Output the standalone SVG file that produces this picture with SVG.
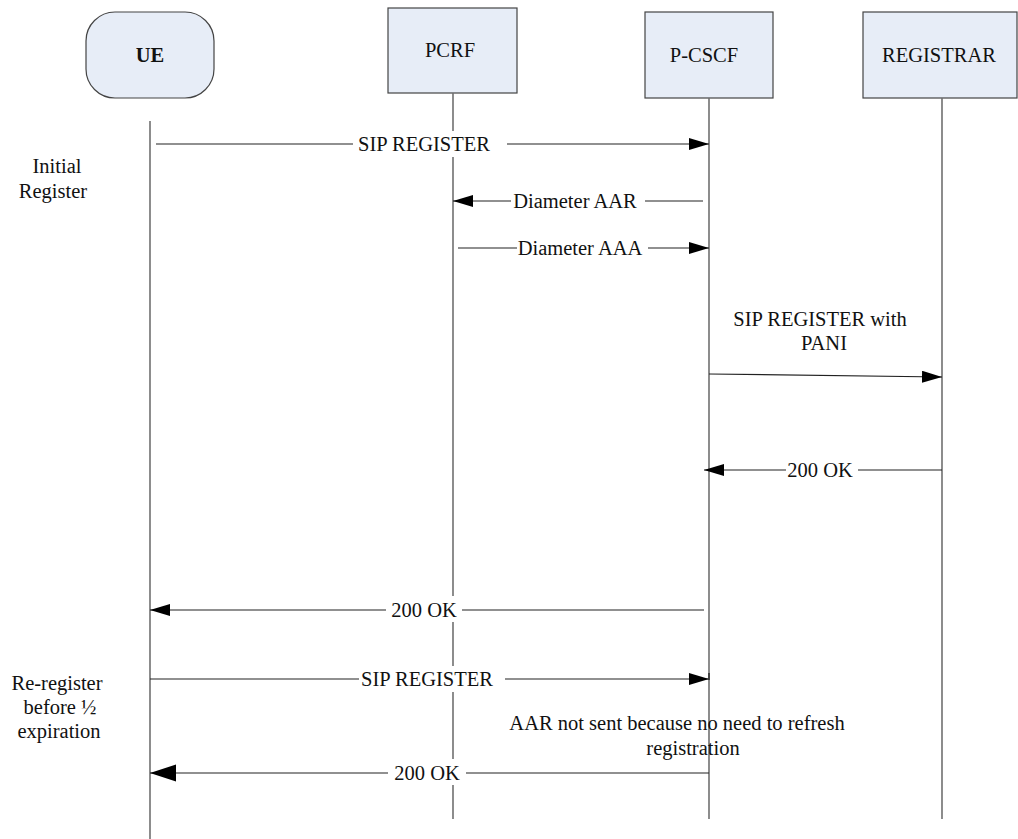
<svg xmlns="http://www.w3.org/2000/svg" width="1018" height="839" viewBox="0 0 1018 839">
<style>
  text { font-family: "Liberation Serif", "Times New Roman", serif; font-size: 20.5px; fill: #111; }
  .box { fill: #E7EDF7; stroke: #444; stroke-width: 1.2; }
  .life { stroke: #707070; stroke-width: 1.6; fill: none; }
  .msg { stroke: #222; stroke-width: 1.2; fill: none; }
  .bg { fill: #fff; stroke: none; }
  .mid { text-anchor: middle; }
</style>
<defs>
  <marker id="arr" markerUnits="userSpaceOnUse" markerWidth="22" markerHeight="14" refX="20" refY="6" orient="auto">
    <path d="M0,0 L20,6 L0,12 Z" fill="#000"/>
  </marker>
  <marker id="arrL" markerUnits="userSpaceOnUse" markerWidth="28" markerHeight="18" refX="26" refY="8.5" orient="auto">
    <path d="M0,0 L26,8.5 L0,17 Z" fill="#000"/>
  </marker>
</defs>
<rect width="1018" height="839" fill="#fff"/>

<g id="node-ue">
  <rect class="box" x="86" y="12" width="128" height="86" rx="29" ry="29"/>
  <text class="mid" x="150" y="62" font-weight="bold">UE</text>
  <line class="life" x1="150" y1="121" x2="150" y2="839"/>
</g>
<g id="node-pcrf">
  <rect class="box" x="388" y="8" width="129" height="85"/>
  <text class="mid" x="450" y="57">PCRF</text>
  <line class="life" x1="453" y1="93" x2="453" y2="819"/>
</g>
<g id="node-pcscf">
  <rect class="box" x="645" y="12" width="128" height="86"/>
  <text class="mid" x="704" y="62">P-CSCF</text>
  <line class="life" x1="709" y1="98" x2="709" y2="819"/>
</g>
<g id="node-registrar">
  <rect class="box" x="863" y="12" width="154" height="86"/>
  <text class="mid" x="939" y="62">REGISTRAR</text>
  <line class="life" x1="942" y1="98" x2="942" y2="819"/>
</g>

<g id="phase-labels">
  <text class="mid" x="57" y="173">Initial</text>
  <text class="mid" x="53" y="198">Register</text>
  <text class="mid" x="57" y="690">Re-register</text>
  <text class="mid" x="60" y="714">before ½</text>
  <text class="mid" x="59" y="738">expiration</text>
</g>

<g id="connectors">
  <g id="m1">
    <line class="msg" x1="156" y1="144" x2="709" y2="144" marker-end="url(#arr)"/>
    <rect class="bg" x="353" y="131" width="154" height="26"/>
    <text class="mid" x="424" y="151">SIP REGISTER</text>
  </g>
  <g id="m2">
    <line class="msg" x1="703" y1="201" x2="453" y2="201" marker-end="url(#arr)"/>
    <rect class="bg" x="511" y="188" width="134" height="26"/>
    <text class="mid" x="575" y="208">Diameter AAR</text>
  </g>
  <g id="m3">
    <line class="msg" x1="458" y1="248" x2="709" y2="248" marker-end="url(#arr)"/>
    <rect class="bg" x="517" y="235" width="131" height="26"/>
    <text class="mid" x="580" y="255">Diameter AAA</text>
  </g>
  <g id="m4">
    <line class="msg" x1="709" y1="374" x2="942" y2="377" marker-end="url(#arr)"/>
    <text class="mid" x="820" y="326">SIP REGISTER with</text>
    <text class="mid" x="824" y="350">PANI</text>
  </g>
  <g id="m5">
    <line class="msg" x1="942" y1="470" x2="704" y2="470" marker-end="url(#arr)"/>
    <rect class="bg" x="786" y="457" width="72" height="26"/>
    <text class="mid" x="820" y="477">200 OK</text>
  </g>
  <g id="m6">
    <line class="msg" x1="704" y1="610" x2="150" y2="610" marker-end="url(#arr)"/>
    <rect class="bg" x="386" y="596" width="76" height="26"/>
    <text class="mid" x="424" y="617">200 OK</text>
  </g>
  <g id="m7">
    <line class="msg" x1="150" y1="679" x2="709" y2="679" marker-end="url(#arr)"/>
    <rect class="bg" x="359" y="666" width="146" height="26"/>
    <text class="mid" x="427" y="686">SIP REGISTER</text>
    <line x1="709" y1="673" x2="709" y2="680" stroke="#333" stroke-width="1.6"/>
  </g>
  <g id="m8">
    <line class="msg" x1="709" y1="773" x2="150" y2="773" marker-end="url(#arrL)"/>
    <rect class="bg" x="388" y="759" width="78" height="26"/>
    <text class="mid" x="427" y="780">200 OK</text>
  </g>
  <g id="note">
    <text class="mid" x="677" y="730">AAR not sent because no need to refresh</text>
    <text class="mid" x="693" y="755">registration</text>
  </g>
</g>
</svg>
